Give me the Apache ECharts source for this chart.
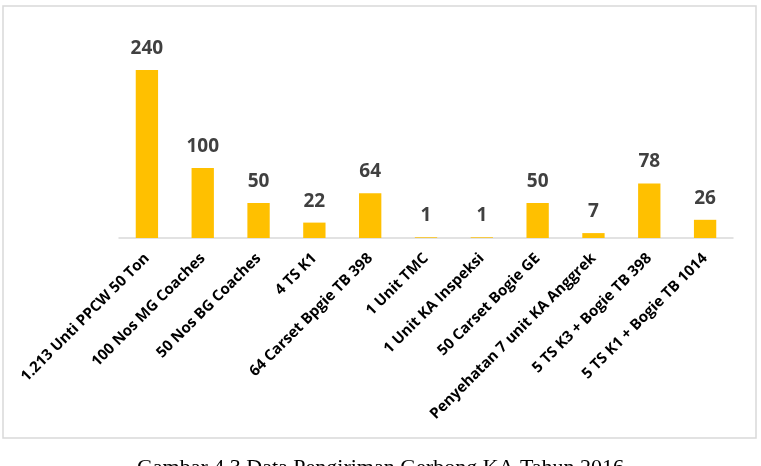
<!DOCTYPE html>
<html>
<head>
<meta charset="utf-8">
<script src="https://cdn.jsdelivr.net/npm/echarts@6/dist/echarts.min.js"></script>
<style>
html,body{margin:0;padding:0;background:#fff;}
#chart{width:761px;height:466px;}
</style>
</head>
<body>
<div id="chart"></div>
<script>
const categories = [
  "1.213 Unti PPCW 50 Ton",
  "100 Nos MG Coaches",
  "50 Nos BG Coaches",
  "4 TS K1",
  "64 Carset Bpgie TB 398",
  "1 Unit TMC",
  "1 Unit KA Inspeksi",
  "50 Carset Bogie GE",
  "Penyehatan 7 unit KA Anggrek",
  "5 TS K3 + Bogie TB 398",
  "5 TS K1 + Bogie TB 1014"
];
const values = [240, 100, 50, 22, 64, 1, 1, 50, 7, 78, 26];
const captionText = "Gambar 4.3 Data Pengiriman Gerbong KA Tahun 2016";

const chart = echarts.init(document.getElementById('chart'), null, {renderer: 'canvas'});
chart.setOption({
  animation: false,
  backgroundColor: '#ffffff',
  grid: {left: 119, right: 28, top: 28, bottom: 228, containLabel: false},
  xAxis: {
    type: 'category',
    data: categories,
    axisLine: {show: true, lineStyle: {color: '#d9d9d9', width: 1.5}},
    axisTick: {show: false},
    axisLabel: {
      interval: 0,
      rotate: 45,
      margin: 18,
      color: '#000000',
      fontFamily: 'Open Sans',
      fontWeight: 'bold',
      fontSize: 15
    }
  },
  yAxis: {
    type: 'value',
    min: 0,
    max: 300,
    show: false,
    splitLine: {show: false}
  },
  series: [{
    type: 'bar',
    data: values,
    barWidth: '40%',
    itemStyle: {color: '#ffc000'},
    label: {
      show: true,
      position: 'top',
      distance: 12,
      color: '#404040',
      fontFamily: 'Open Sans',
      fontWeight: 'bold',
      fontSize: 19
    }
  }],
  graphic: [
    {
      type: 'rect',
      shape: {x: 3, y: 6, width: 753, height: 432},
      style: {fill: 'none', stroke: '#d9d9d9', lineWidth: 1.5},
      silent: true, z: -1
    },
    {
      type: 'text',
      left: 'center',
      top: 457,
      style: {
        text: captionText,
        fontFamily: 'Liberation Serif',
        fontSize: 22,
        fill: '#000000'
      }
    }
  ]
});
</script>
</body>
</html>
